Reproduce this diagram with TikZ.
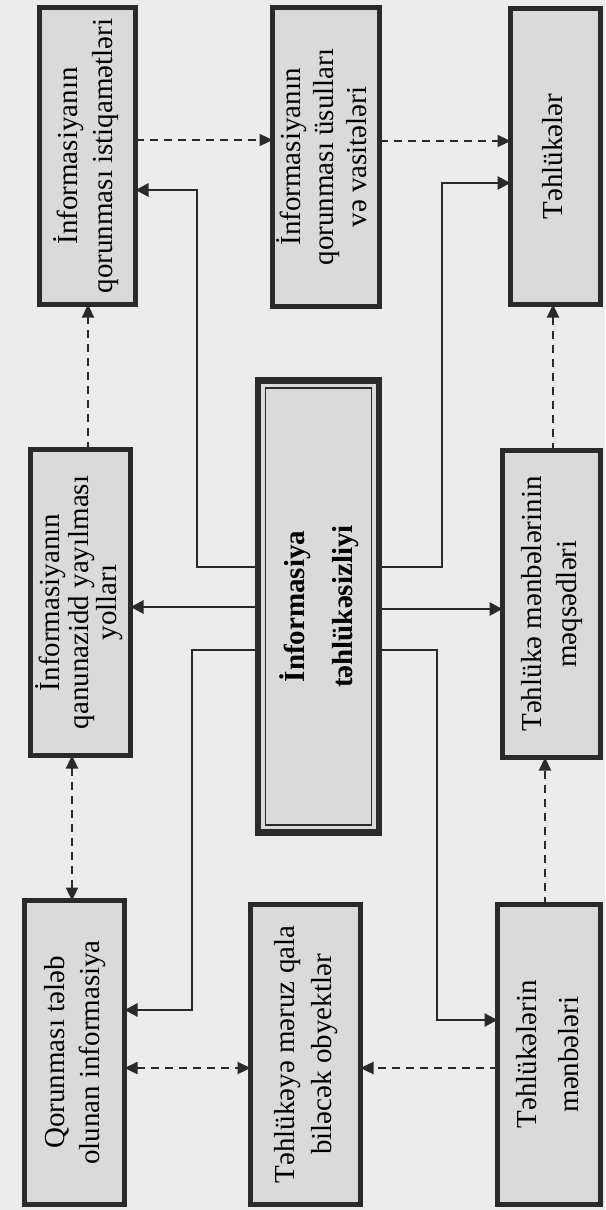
\documentclass[tikz,border=0pt]{standalone}
\usepackage{fontspec}
\usepackage{graphicx}
\setmainfont{Liberation Serif}
\usetikzlibrary{arrows.meta}
\definecolor{page}{HTML}{ECECEC}
\definecolor{boxfill}{HTML}{DADADA}
\definecolor{ink}{HTML}{2A2A2A}
\newcommand{\rtext}[2]{\rotatebox{90}{\fontsize{29}{#1}\selectfont\begin{tabular}{@{}c@{}}#2\end{tabular}}}
\begin{document}
\begin{tikzpicture}[x=1pt,y=-1pt,
  box/.style={draw=ink, line width=5pt, fill=boxfill, inner sep=0pt, outer sep=0pt},
  mainbox/.style={draw=ink, line width=6.5pt, fill=boxfill, inner sep=0pt, outer sep=0pt},
  sol/.style={draw=ink, line width=2.8pt, -{Triangle[length=13pt,width=13pt]}},
  dsh/.style={draw=ink, line width=2.3pt, dash pattern=on 8pt off 6pt, -{Triangle[length=13pt,width=12pt]}},
  dsh2/.style={draw=ink, line width=2.3pt, dash pattern=on 8pt off 6pt, {Triangle[length=13pt,width=12pt]}-{Triangle[length=13pt,width=12pt]}}]
\useasboundingbox (0,0) rectangle (605,1210);
\fill[page] (0,0) rectangle (605,1210);

% boxes
\node[box, minimum width=96pt, minimum height=297pt] (B1) at (87.5,156) {\rtext{35}{İnformasiyanın\\qorunması istiqamətləri}};
\node[box, minimum width=107pt, minimum height=299pt] (B2) at (326,157) {\rtext{33}{İnformasiyanın\\qorunması üsulları\\və vasitələri}};
\node[box, minimum width=90pt, minimum height=296pt] (B3) at (555.5,156.5) {\rtext{35}{Təhlükələr}};
\node[box, minimum width=100pt, minimum height=306pt] (B4) at (80.5,602.5) {\rtext{28}{İnformasiyanın\\qanunazidd yayılması\\yolları}};
\node[mainbox, minimum width=121pt, minimum height=452pt] (B5) at (318.5,606.5) {\rotatebox{90}{\fontsize{29}{48}\selectfont\bfseries\begin{tabular}{@{}c@{}}İnformasiya\\təhlükəsizliyi\end{tabular}}};
\draw[ink, line width=1.6pt] ([shift={(7.5pt,-7.5pt)}]B5.north west) rectangle ([shift={(-7.5pt,7.5pt)}]B5.south east);
\node[box, minimum width=98pt, minimum height=307pt] (B6) at (551.5,604) {\rtext{35}{Təhlükə mənbələrinin\\məqsədləri}};
\node[box, minimum width=100pt, minimum height=304pt] (B7) at (74.5,1052.5) {\rtext{35}{Qorunması tələb\\olunan informasiya}};
\node[box, minimum width=110pt, minimum height=300pt] (B8) at (305.5,1054.5) {\rtext{37}{Təhlükəyə məruz qala\\biləcək obyektlər}};
\node[box, minimum width=103pt, minimum height=300pt] (B9) at (549,1054.5) {\rtext{42}{Təhlükələrin\\mənbələri}};

% solid connectors from the centre box
\coordinate (a1) at (197,567); \coordinate (a2) at (197,190);
\draw[sol] (B5.west |- a1) -- (a1) -- (a2) -- (B1.east |- a2);
\coordinate (c1) at (0,607);
\draw[sol] (B5.west |- c1) -- (B4.east |- c1);
\coordinate (b1) at (192,650); \coordinate (b2) at (192,1010);
\draw[sol] (B5.west |- b1) -- (b1) -- (b2) -- (B7.east |- b2);
\coordinate (e1) at (442,567); \coordinate (e2) at (442,183);
\draw[sol] (B5.east |- e1) -- (e1) -- (e2) -- (B3.west |- e2);
\coordinate (f1) at (0,609);
\draw[sol] (B5.east |- f1) -- (B6.west |- f1);
\coordinate (g1) at (437,650); \coordinate (g2) at (437,1020);
\draw[sol] (B5.east |- g1) -- (g1) -- (g2) -- (B9.west |- g2);

% dashed connectors
\coordinate (h1) at (0,140);
\draw[dsh] (B1.east |- h1) -- (B2.west |- h1);
\coordinate (h2) at (0,141);
\draw[dsh] (B2.east |- h2) -- (B3.west |- h2);
\coordinate (v1) at (88,0);
\draw[dsh] (B4.north -| v1) -- (B1.south -| v1);
\coordinate (v2) at (72,0);
\draw[dsh2] (B4.south -| v2) -- (B7.north -| v2);
\coordinate (v3) at (553,0);
\draw[dsh] (B6.north -| v3) -- (B3.south -| v3);
\coordinate (v4) at (545,0);
\draw[dsh] (B9.north -| v4) -- (B6.south -| v4);
\coordinate (h3) at (0,1068);
\draw[dsh2] (B7.east |- h3) -- (B8.west |- h3);
\draw[dsh] (B9.west |- h3) -- (B8.east |- h3);
\end{tikzpicture}
\end{document}
